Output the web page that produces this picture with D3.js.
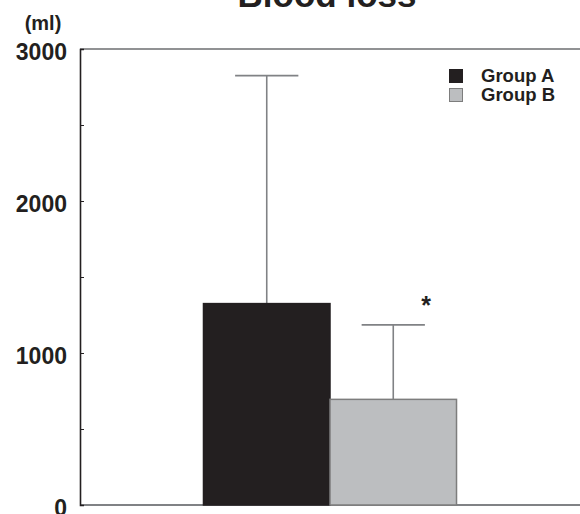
<!DOCTYPE html>
<html>
<head>
<meta charset="utf-8">
<script src="https://cdn.jsdelivr.net/npm/d3@7/dist/d3.min.js"></script>
<style>
  html, body { margin: 0; padding: 0; background: #fff; }
  svg { display: block; font-family: "Liberation Sans", Arial, Helvetica, sans-serif; font-weight: bold; }
</style>
</head>
<body>
<svg id="chart" width="580" height="514"></svg>
<script>
// ---- data ----
const title = "Blood loss";
const unitLabel = "(ml)";
const groups = ["Group A", "Group B"];
const means = [1325, 695];
const errTops = [2825, 1185];
const yTickLabels = [0, 1000, 2000, 3000];
const yMinorTicks = [0, 500, 1000, 1500, 2000, 2500, 3000];
const significance = ["", "*"];

// ---- layout ----
const W = 580, H = 514;
const margin = { top: 49, right: 0, bottom: 9, left: 80 };
const ink = "#231f20";
const colors = ["#231f20", "#bcbec0"];
const strokeColors = ["#231f20", "#7d7d7d"];

const svg = d3.select("#chart");

const y = d3.scaleLinear().domain([0, 3000]).range([H - margin.bottom, margin.top]);
const outer = d3.scaleBand().domain(["all"]).range([margin.left, W - margin.right])
  .paddingInner(0).paddingOuter(0.488);
const x = d3.scaleBand().domain(groups).range([0, outer.bandwidth()]).padding(0);
const x0 = outer("all");

// top frame line
svg.append("line")
  .attr("x1", margin.left).attr("x2", W)
  .attr("y1", y(3000)).attr("y2", y(3000))
  .attr("stroke", "#6d6e71").attr("stroke-width", 1.3);

// bottom axis line
svg.append("line")
  .attr("x1", margin.left).attr("x2", W)
  .attr("y1", y(0)).attr("y2", y(0))
  .attr("stroke", "#808285").attr("stroke-width", 2);

// error bars
const eb = svg.append("g").attr("stroke", "#808285").attr("stroke-width", 1.6);
groups.forEach((g, i) => {
  const cx = x0 + x(g) + x.bandwidth() / 2;
  eb.append("line").attr("x1", cx).attr("x2", cx).attr("y1", y(means[i])).attr("y2", y(errTops[i]));
  eb.append("line").attr("x1", cx - x.bandwidth() / 4).attr("x2", cx + x.bandwidth() / 4)
    .attr("y1", y(errTops[i])).attr("y2", y(errTops[i]));
});

// bars
svg.append("g").selectAll("rect").data(groups).join("rect")
  .attr("x", d => x0 + x(d))
  .attr("width", x.bandwidth())
  .attr("y", (d, i) => y(means[i]))
  .attr("height", (d, i) => y(0) - y(means[i]))
  .attr("fill", (d, i) => colors[i])
  .attr("stroke", (d, i) => strokeColors[i])
  .attr("stroke-width", 1.5);

// significance marker
svg.append("g").selectAll("text").data(groups).join("text")
  .attr("x", (d, i) => x0 + x(d) + x.bandwidth() * 0.76)
  .attr("y", (d, i) => y(errTops[i]) - 11)
  .attr("text-anchor", "middle")
  .attr("font-size", 25)
  .attr("fill", ink)
  .text((d, i) => significance[i]);

// y axis
const yAxis = d3.axisLeft(y).tickValues(yMinorTicks).tickSize(-4).tickPadding(0).tickFormat("");
const ya = svg.append("g").attr("transform", `translate(${margin.left},0)`).call(yAxis);
ya.select(".domain").attr("stroke", ink).attr("stroke-width", 1.6);
ya.selectAll(".tick line").attr("stroke", ink).attr("stroke-width", 1);

svg.append("g").selectAll("text").data(yTickLabels).join("text")
  .attr("x", margin.left - 13)
  .attr("y", d => y(d) + 11)
  .attr("text-anchor", "end")
  .attr("font-size", 23)
  .attr("fill", ink)
  .text(d => d);

// unit label
svg.append("text")
  .attr("x", 43).attr("y", 30)
  .attr("text-anchor", "middle")
  .attr("font-size", 20)
  .attr("fill", ink)
  .text(unitLabel);

// title
svg.append("text")
  .attr("x", 327).attr("y", 7)
  .attr("text-anchor", "middle")
  .attr("font-size", 35)
  .attr("fill", ink)
  .text(title);

// legend
const lg = svg.append("g").attr("transform", "translate(449,69)");
groups.forEach((g, i) => {
  lg.append("rect").attr("x", 0.5).attr("y", i * 19 + 0.5).attr("width", 13).attr("height", 13)
    .attr("fill", colors[i]).attr("stroke", strokeColors[i]).attr("stroke-width", 1);
  lg.append("text").attr("x", 32).attr("y", i * 19 + 13)
    .attr("font-size", 18.5).attr("fill", ink).text(g);
});
</script>
</body>
</html>
